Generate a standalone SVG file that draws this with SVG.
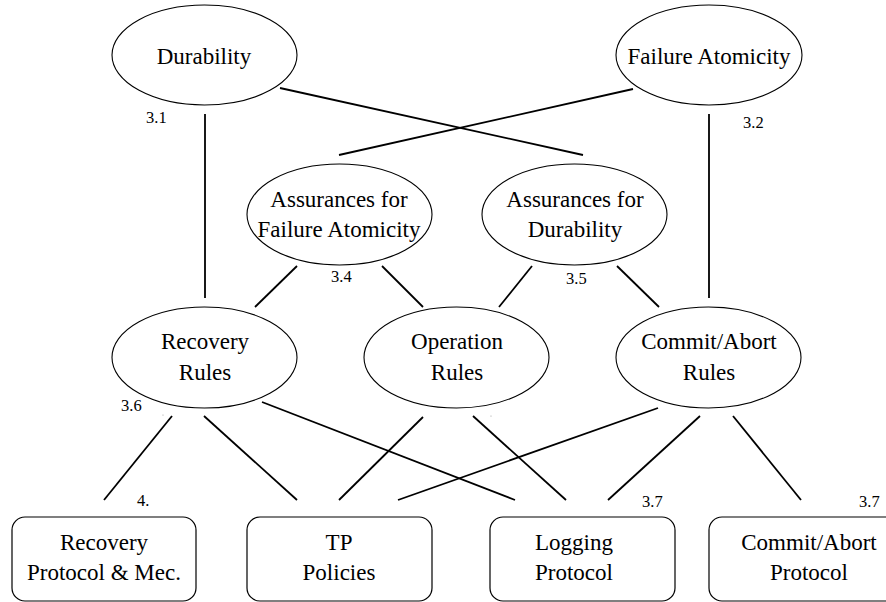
<svg xmlns="http://www.w3.org/2000/svg" width="886" height="602" viewBox="0 0 886 602">
<style>
.n ellipse{fill:#fff;stroke:#000;stroke-width:1.1}
.n rect{fill:#fff;stroke:#000;stroke-width:1.2}
text{font-family:"Liberation Serif","Noto Serif","DejaVu Serif",FreeSerif,"Times New Roman",serif;fill:#000}
.t{font-size:23px;text-anchor:middle}
.l{font-size:16.5px}
#connectors line{stroke:#000;stroke-width:1.8;stroke-linecap:butt}
</style>
<rect width="886" height="602" fill="#fff"/>
<g id="connectors">
<line x1="280" y1="88" x2="583" y2="155"/>
<line x1="633" y1="89" x2="339" y2="155"/>
<line x1="205" y1="114" x2="205" y2="298"/>
<line x1="709" y1="114" x2="709" y2="298"/>
<line x1="297" y1="266" x2="255" y2="307"/>
<line x1="382" y1="266" x2="423" y2="307"/>
<line x1="532" y1="266" x2="499" y2="307"/>
<line x1="617" y1="266" x2="659" y2="307"/>
<line x1="172" y1="416" x2="104" y2="500"/>
<line x1="204" y1="416" x2="297" y2="500"/>
<line x1="262" y1="402" x2="515" y2="500"/>
<line x1="423" y1="417" x2="339" y2="500"/>
<line x1="473" y1="416" x2="566" y2="500"/>
<line x1="658" y1="408" x2="398" y2="500"/>
<line x1="700" y1="416" x2="608" y2="500"/>
<line x1="733" y1="416" x2="801" y2="500"/>
</g>
<g id="durability" class="n"><ellipse cx="204.5" cy="55" rx="92.5" ry="50"/><text class="t" x="204" y="64">Durability</text></g>
<g id="failure-atomicity" class="n"><ellipse cx="709" cy="55" rx="93" ry="50"/><text class="t" x="709" y="64">Failure Atomicity</text></g>
<g id="assurances-fa" class="n"><ellipse cx="339.5" cy="214.5" rx="92.5" ry="50.5"/><text class="t" x="339" y="207">Assurances for</text><text class="t" x="339" y="237">Failure Atomicity</text></g>
<g id="assurances-d" class="n"><ellipse cx="574.5" cy="214.5" rx="92.5" ry="50.5"/><text class="t" x="575" y="207">Assurances for</text><text class="t" x="575" y="237">Durability</text></g>
<g id="recovery-rules" class="n"><ellipse cx="204.5" cy="357.5" rx="92.5" ry="50.5"/><text class="t" x="205" y="349">Recovery</text><text class="t" x="205" y="380">Rules</text></g>
<g id="operation-rules" class="n"><ellipse cx="456.5" cy="357.5" rx="92.5" ry="50.5"/><text class="t" x="457" y="349">Operation</text><text class="t" x="457" y="380">Rules</text></g>
<g id="commit-abort-rules" class="n"><ellipse cx="708.5" cy="357.5" rx="92.5" ry="50.5"/><text class="t" x="709" y="349">Commit/Abort</text><text class="t" x="709" y="380">Rules</text></g>
<g id="recovery-protocol" class="n"><rect x="12" y="517" width="184" height="84" rx="13"/><text class="t" x="104" y="550">Recovery</text><text class="t" x="104" y="580">Protocol &amp; Mec.</text></g>
<g id="tp-policies" class="n"><rect x="247" y="517" width="185" height="84" rx="13"/><text class="t" x="339" y="550">TP</text><text class="t" x="339" y="580">Policies</text></g>
<g id="logging-protocol" class="n"><rect x="490" y="517" width="185" height="84" rx="13"/><text class="t" x="574" y="550">Logging</text><text class="t" x="574" y="580">Protocol</text></g>
<g id="commit-abort-protocol" class="n"><rect x="709" y="517" width="200" height="84" rx="13"/><text class="t" x="809" y="550">Commit/Abort</text><text class="t" x="809" y="580">Protocol</text></g>
<g id="labels">
<text class="l" x="146" y="123">3.1</text>
<text class="l" x="743" y="128">3.2</text>
<text class="l" x="331" y="282">3.4</text>
<text class="l" x="566" y="284">3.5</text>
<text class="l" x="121" y="411">3.6</text>
<text class="l" x="137" y="506">4.</text>
<text class="l" x="642" y="507">3.7</text>
<text class="l" x="859" y="507">3.7</text>
</g>
<g id="specks" fill="#999"><circle cx="163" cy="415" r="0.6"/><circle cx="491" cy="416" r="0.6"/></g>
</svg>
